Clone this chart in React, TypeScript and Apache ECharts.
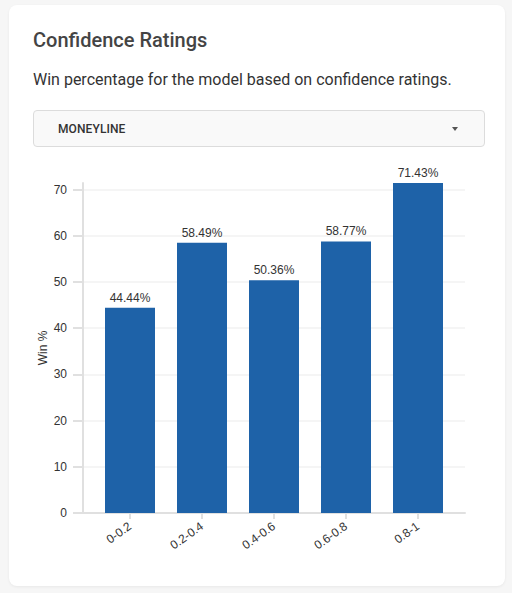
import React, { useEffect, useRef } from "react";
import * as echarts from "echarts";

const categories = ["0-0.2", "0.2-0.4", "0.4-0.6", "0.6-0.8", "0.8-1"];
const winPct = [44.44, 58.49, 50.36, 58.77, 71.43];
const yTicks = [0, 10, 20, 30, 40, 50, 60, 70];
const yMax = 71.43;

const FONT = "Roboto, 'Noto Sans', sans-serif";
const CHART_FONT = "'Liberation Sans', Arial, sans-serif";
const AXIS_COLOR = "#e0e0e0";

export default function App() {
  const ref = useRef<HTMLDivElement>(null);

  useEffect(() => {
    if (!ref.current) return;
    const chart = echarts.init(ref.current, undefined, { renderer: "svg" });
    chart.setOption({
      animation: false,
      textStyle: { fontFamily: CHART_FONT },
      grid: [
        { left: 85, right: 51, top: 28, bottom: 62, containLabel: false },
        { left: 74, right: 40, top: 28, bottom: 62, containLabel: false },
      ],
      xAxis: [
        {
          type: "category",
          gridIndex: 0,
          data: categories,
          axisLine: { show: false },
          axisTick: { show: true, alignWithLabel: true, length: 6, lineStyle: { color: AXIS_COLOR, width: 2 } },
          axisLabel: { rotate: 35, margin: 12, color: "#333", fontSize: 12, fontFamily: CHART_FONT },
          splitLine: { show: false },
        },
        {
          type: "value",
          gridIndex: 1,
          min: 0,
          max: 1,
          axisLine: { show: true, lineStyle: { color: AXIS_COLOR, width: 2 } },
          axisTick: { show: false },
          axisLabel: { show: false },
          splitLine: { show: false },
        },
      ],
      yAxis: [
        {
          type: "value",
          gridIndex: 0,
          min: 0,
          max: yMax,
          show: false,
        },
        {
          type: "value",
          gridIndex: 1,
          min: 0,
          max: yMax,
          interval: 10,
          name: "Win %",
          nameLocation: "middle",
          nameGap: 34,
          nameMoveOverlap: false,
          nameRotate: 90,
          nameTextStyle: { color: "#333", fontSize: 12, fontFamily: CHART_FONT },
          axisLine: { show: true, lineStyle: { color: AXIS_COLOR, width: 2 } },
          axisTick: { show: true, length: 10, customValues: yTicks, lineStyle: { color: AXIS_COLOR, width: 2 } },
          axisLabel: { margin: 16, color: "#333", fontSize: 12, fontFamily: CHART_FONT, customValues: yTicks },
          splitLine: { show: true, lineStyle: { color: "#f2f2f2", width: 1.5 } },
        },
      ],
      series: [
        {
          type: "bar",
          xAxisIndex: 0,
          yAxisIndex: 0,
          data: winPct,
          barWidth: 50,
          itemStyle: { color: "#1e62a8" },
          label: {
            show: true,
            position: "top",
            distance: 4,
            color: "#333",
            fontSize: 12,
            fontFamily: CHART_FONT,
            formatter: (p: any) => `${Number(p.value).toFixed(2)}%`,
          },
        },
      ],
    });
    return () => chart.dispose();
  }, []);

  return (
    <div
      style={{
        position: "fixed",
        left: 0,
        top: 0,
        width: 512,
        height: 593,
        background: "#f6f6f6",
        fontFamily: FONT,
      }}
    >
      <div
        style={{
          position: "absolute",
          left: 9,
          top: 5,
          width: 496,
          height: 581,
          background: "#ffffff",
          borderRadius: 8,
          boxShadow: "0 1px 3px rgba(0,0,0,0.06)",
        }}
      >
        <div
          style={{
            position: "absolute",
            left: 24,
            top: 23,
            fontSize: 20,
            fontWeight: 500,
            color: "#444",
            whiteSpace: "nowrap",
          }}
        >
          Confidence Ratings
        </div>
        <div
          style={{
            position: "absolute",
            left: 24,
            top: 65,
            fontSize: 16,
            color: "#333",
            whiteSpace: "nowrap",
          }}
        >
          Win percentage for the model based on confidence ratings.
        </div>
        <div
          style={{
            position: "absolute",
            left: 24,
            top: 105,
            width: 450,
            height: 35,
            background: "#f9f9f9",
            border: "1px solid #dcdcdc",
            borderRadius: 4,
          }}
        >
          <div
            style={{
              position: "absolute",
              left: 24,
              top: 0,
              lineHeight: "36px",
              fontSize: 12,
              fontWeight: 500,
              color: "#333",
              letterSpacing: 0.1,
            }}
          >
            MONEYLINE
          </div>
          <div
            style={{
              position: "absolute",
              left: 418,
              top: 16,
              width: 0,
              height: 0,
              borderLeft: "3.5px solid transparent",
              borderRight: "3.5px solid transparent",
              borderTop: "4px solid #555",
            }}
          />
        </div>
        <div
          ref={ref}
          style={{ position: "absolute", left: 0, top: 150, width: 496, height: 420 }}
        />
      </div>
    </div>
  );
}
